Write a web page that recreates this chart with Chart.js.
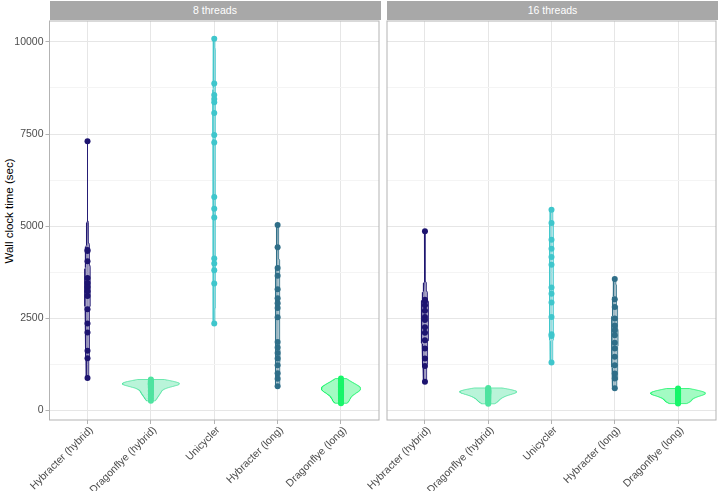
<!DOCTYPE html>
<html>
<head>
<meta charset="utf-8">
<script src="https://cdn.jsdelivr.net/npm/chart.js@4.4.1/dist/chart.umd.min.js"></script>
<style>
  body { margin: 0; background: #fff; font-family: 'Liberation Sans', Arial, sans-serif; }
  #wrap { position: relative; width: 720px; height: 491px; overflow: hidden; }
  .strip { position: absolute; top: 1px; height: 19px; background: #a8a8a8; color: #fff;
           font-size: 10.5px; line-height: 19px; text-align: center; }
  #ytitle { position: absolute; left: 9px; top: 211px; transform: translate(-50%, -50%) rotate(-90deg);
            white-space: nowrap; font-size: 11.5px; color: #000; }
  canvas { position: absolute; }
</style>
</head>
<body>
<div id="wrap">
  <div class="strip" style="left:49.5px;width:331px">8 threads</div>
  <div class="strip" style="left:387px;width:331px">16 threads</div>
  <div id="ytitle">Wall clock time (sec)</div>
  <div style="position:absolute;left:0;top:17px;width:383px;height:474px"><canvas id="left"></canvas></div>
  <div style="position:absolute;left:320px;top:17px;width:400px;height:474px"><canvas id="right"></canvas></div>
</div>
<script>
// Categories and tick labels
const categories = ['Hybracter (hybrid)', 'Dragonflye (hybrid)', 'Unicycler', 'Hybracter (long)', 'Dragonflye (long)'];
const colors = ['#1d1470', '#4fe3a0', '#3fc6cc', '#2f6e88', '#18f56a'];
const yTicks = [0, 2500, 5000, 7500, 10000];

// 8 threads (wall clock seconds)
const hybHybrid8 = [7300, 4350, 4320, 4040, 3590, 3450, 3340, 3230, 3100, 2740, 2350, 2110, 1610, 1410, 870];
const dfHybrid8 = [830, 800, 780, 765, 750, 740, 730, 722, 715, 708, 700, 692, 684, 670, 650, 620, 580, 540, 505, 470, 430, 380, 320, 250];
const uni8 = [10090, 8870, 8560, 8450, 8360, 8070, 7470, 7270, 5790, 5470, 5230, 4120, 3980, 3800, 3440, 2350];
const hybLong8 = [5030, 4420, 3860, 3650, 3280, 3040, 2900, 2770, 2520, 1850, 1700, 1550, 1400, 1220, 1000, 850, 650];
const dfLong8 = [855, 800, 760, 725, 695, 670, 650, 630, 612, 596, 580, 565, 548, 530, 510, 485, 460, 430, 395, 355, 310, 260, 210, 185];

// 16 threads
const hybHybrid16 = [4860, 3000, 2950, 2850, 2700, 2530, 2450, 2250, 2100, 1900, 1670, 1400, 1200, 770];
const dfHybrid16 = [600, 580, 560, 545, 530, 520, 510, 500, 490, 480, 470, 455, 440, 420, 400, 375, 350, 320, 290, 250, 210, 170];
const uni16 = [5440, 5080, 4630, 4380, 4160, 3950, 3330, 3160, 2920, 2530, 2060, 2015, 1290];
const hybLong16 = [3560, 3010, 2800, 2490, 2300, 2170, 2030, 1830, 1670, 1450, 1220, 990, 860, 590];
const dfLong16 = [585, 560, 540, 520, 505, 490, 478, 466, 455, 445, 435, 420, 405, 390, 370, 345, 320, 290, 260, 230, 200, 175];

const panel8 = [hybHybrid8, dfHybrid8, uni8, hybLong8, dfLong8];
const panel16 = [hybHybrid16, dfHybrid16, uni16, hybLong16, dfLong16];

// gaussian kde, bw.nrd0 like R
function quantile(s, p) {
    const h = (s.length - 1) * p, lo = Math.floor(h);
    return s[lo] + (h - lo) * ((s[Math.min(lo + 1, s.length - 1)]) - s[lo]);
}
function bwNrd0(v) {
    const s = v.slice().sort((a, b) => a - b);
    const n = s.length;
    const mean = s.reduce((a, b) => a + b, 0) / n;
    const sd = Math.sqrt(s.reduce((a, b) => a + (b - mean) * (b - mean), 0) / (n - 1));
    const iqr = quantile(s, 0.75) - quantile(s, 0.25);
    let lo = Math.min(sd, iqr / 1.34);
    if (!lo) lo = sd || 1;
    return 0.9 * lo * Math.pow(n, -0.2);
}
function density(v) {
    const bw = bwNrd0(v);
    const min = Math.min(...v), max = Math.max(...v);
    const out = [];
    for (let i = 0; i <= 128; i++) {
        const y = min + (max - min) * i / 128;
        let d = 0;
        v.forEach(p => { const z = (y - p) / bw; d += Math.exp(-0.5 * z * z); });
        out.push({ y: y, d: d / (v.length * bw * Math.sqrt(2 * Math.PI)) });
    }
    return out;
}

function hexA(hex, a) {
    const n = parseInt(hex.slice(1), 16);
    return 'rgba(' + (n >> 16) + ',' + ((n >> 8) & 255) + ',' + (n & 255) + ',' + a + ')';
}

function buildDatasets(groups) {
    const dens = groups.map(density);
    const maxD = Math.max(...dens.map(g => Math.max(...g.map(p => p.d))));
    const sets = [];
    dens.forEach((g, i) => {
        const cx = i + 1;
        const right = g.map(p => ({ x: cx + p.d / maxD * 0.45, y: p.y }));
        const left = g.slice().reverse().map(p => ({ x: cx - p.d / maxD * 0.45, y: p.y }));
        const outline = right.concat(left);
        outline.push(right[0]);
        sets.push({
            type: 'line',
            data: outline,
            borderColor: colors[i],
            borderWidth: 0.8,
            backgroundColor: hexA(colors[i], 0.4),
            fill: 'shape',
            pointRadius: 0,
            tension: 0,
            order: 2
        });
    });
    groups.forEach((g, i) => {
        sets.push({
            type: 'scatter',
            data: g.map(v => ({ x: i + 1, y: v })),
            backgroundColor: colors[i],
            borderWidth: 0,
            pointRadius: 3,
            order: 1
        });
    });
    return sets;
}

const panelBorder = {
    id: 'panelBorder',
    afterDraw(chart) {
        const a = chart.chartArea, ctx = chart.ctx;
        ctx.save();
        ctx.strokeStyle = '#b3b3b3';
        ctx.lineWidth = 1;
        ctx.strokeRect(a.left, a.top, a.right - a.left, a.bottom - a.top);
        ctx.restore();
    }
};

const tickFont = { family: "'Liberation Sans', Arial, sans-serif", size: 10.5 };

function makeChart(id, groups, showY) {
    return new Chart(document.getElementById(id), {
        type: 'scatter',
        data: { datasets: buildDatasets(groups) },
        plugins: [panelBorder],
        options: {
            responsive: true,
            maintainAspectRatio: false,
            animation: false,
            layout: { padding: showY ? { left: 0, right: 2.5, top: 0, bottom: 0 } : { left: 67, right: 1.7, top: 0, bottom: 0 } },
            plugins: { legend: { display: false }, tooltip: { enabled: false } },
            scales: {
                x: {
                    type: 'linear',
                    min: 0.4,
                    max: 5.6,
                    afterBuildTicks: s => { s.ticks = categories.map((c, i) => ({ value: i + 1 })); },
                    afterFit: s => { s.height = 71; s.paddingLeft = 0; s.paddingRight = 0; },
                    grid: { color: '#e6e6e6', lineWidth: 1, tickColor: '#b3b3b3', tickLength: 4 },
                    border: { display: false },
                    ticks: {
                        autoSkip: false,
                        minRotation: 45,
                        maxRotation: 45,
                        padding: 0,
                        labelOffset: 4,
                        color: '#4d4d4d',
                        font: tickFont,
                        callback: v => categories[v - 1]
                    }
                },
                y: {
                    min: -270,
                    max: 10570,
                    afterBuildTicks: s => {
                        const t = [];
                        for (let v = 0; v <= 10000; v += 1250) t.push({ value: v });
                        s.ticks = t;
                    },
                    afterFit: s => { s.width = showY ? 49.5 : 0; s.paddingTop = 0; s.paddingBottom = 0; },
                    grid: {
                        color: c => yTicks.includes(c.tick.value) ? '#e6e6e6' : '#f4f4f4',
                        tickColor: c => showY && yTicks.includes(c.tick.value) ? '#b3b3b3' : 'rgba(0,0,0,0)',
                        tickLength: showY ? 4 : 0,
                        lineWidth: 1
                    },
                    border: { display: false },
                    ticks: {
                        display: showY,
                        padding: 2,
                        color: '#4d4d4d',
                        font: tickFont,
                        callback: v => yTicks.includes(v) ? String(v) : ''
                    }
                }
            }
        }
    });
}

makeChart('left', panel8, true);
makeChart('right', panel16, false);
</script>
</body>
</html>
